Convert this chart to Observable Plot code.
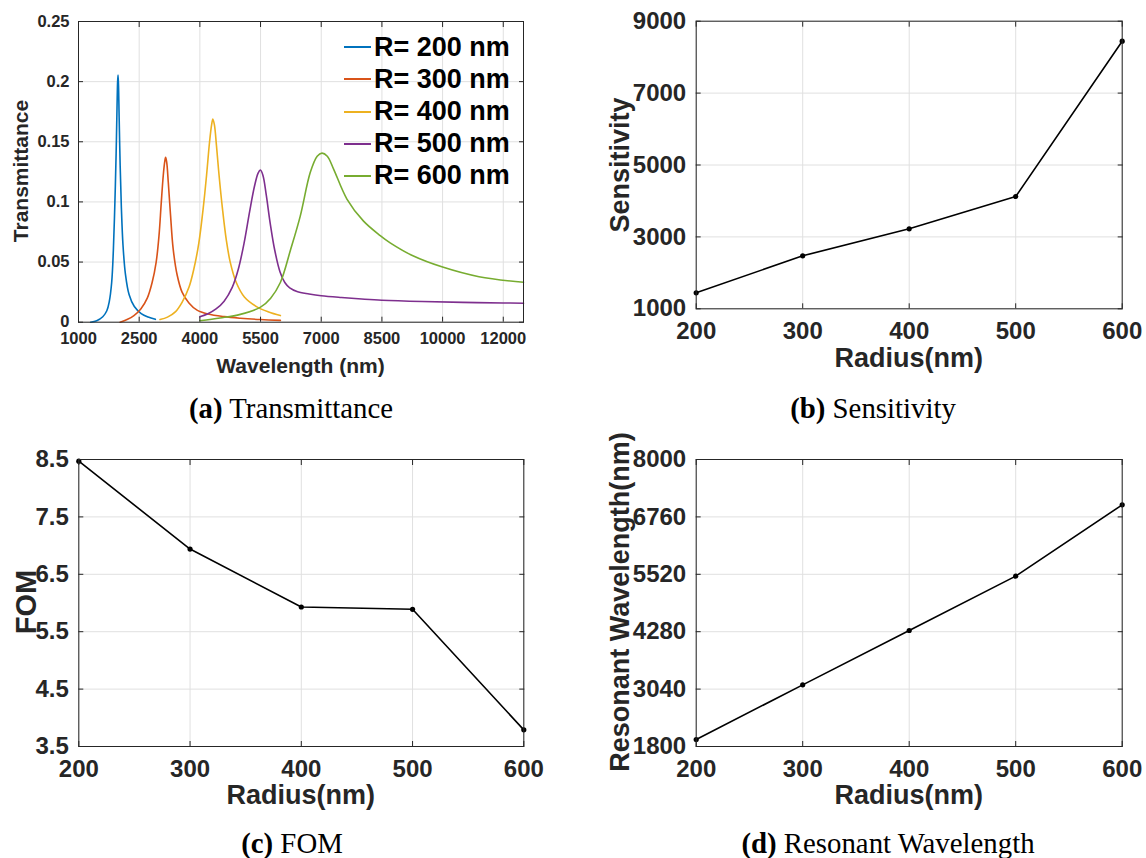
<!DOCTYPE html>
<html><head><meta charset="utf-8">
<script src="https://cdn.jsdelivr.net/npm/d3@7"></script>
<script src="https://cdn.jsdelivr.net/npm/@observablehq/plot@0.6"></script>
<style>
body{margin:0;background:#fff;width:1146px;height:858px;position:relative;overflow:hidden;font-family:"Liberation Sans",Arial,sans-serif}
.panel{position:absolute}
.lab{position:absolute;font-family:"Liberation Sans",Arial,sans-serif;font-weight:bold;color:#262626;line-height:1;white-space:nowrap}
.cap{position:absolute;font-family:"Liberation Serif","Times New Roman",serif;font-size:28.8px;color:#000;line-height:1;white-space:nowrap;transform:translate(-50%,-50%)}
.leg{position:absolute;font-family:"Liberation Sans",Arial,sans-serif;font-weight:bold;font-size:27px;color:#000;line-height:1;white-space:nowrap}
.leg span.sw{display:inline-block;width:27px;height:0;border-top:2px solid;vertical-align:middle;margin-right:3px;position:relative;top:-1px}
</style></head><body>
<div id="pa" class="panel" style="left:0;top:0"></div>
<div id="pb" class="panel" style="left:580px;top:0"></div>
<div id="pc" class="panel" style="left:0;top:430px"></div>
<div id="pd" class="panel" style="left:580px;top:430px"></div>
<div id="labels"></div>
<script>
// ---------- data ----------
const seriesNames = ["R= 200 nm", "R= 300 nm", "R= 400 nm", "R= 500 nm", "R= 600 nm"];
const seriesColors = ["#0072BD", "#D95319", "#EDB120", "#7E2F8E", "#77AC30"];

const wl200 = [1300,1450,1600,1700,1760,1820,1862,1900,1930,1952,1967,1977,1988,2005,2030,2060,2100,2160,2250,2380,2550,2720,2900];
const t200  = [0.0000,0.0012,0.0045,0.0095,0.0170,0.0330,0.0600,0.1000,0.1400,0.1780,0.2000,0.2055,0.1980,0.1700,0.1300,0.0950,0.0640,0.0400,0.0230,0.0130,0.0072,0.0043,0.0024];

const wl300 = [2030,2200,2370,2540,2700,2820,2920,2990,3045,3095,3130,3153,3180,3220,3275,3340,3440,3560,3730,3930,4200,4600,5000,5500,5990];
const t300  = [0.0000,0.0022,0.0055,0.0110,0.0200,0.0330,0.0500,0.0720,0.0990,0.1220,0.1330,0.1370,0.1330,0.1160,0.0890,0.0610,0.0390,0.0250,0.0160,0.0100,0.0068,0.0046,0.0033,0.0022,0.0015];

const wl400 = [3015,3200,3400,3560,3730,3850,3975,4080,4165,4240,4290,4321,4360,4410,4475,4560,4655,4750,4900,5100,5400,5700,5990];
const t400  = [0.0022,0.0042,0.0088,0.0165,0.0290,0.0440,0.0660,0.0940,0.1220,0.1500,0.1640,0.1690,0.1640,0.1470,0.1220,0.0940,0.0680,0.0500,0.0330,0.0210,0.0130,0.0085,0.0055];

const wl500 = [4000,4200,4400,4600,4800,4950,5100,5230,5350,5440,5497,5560,5640,5740,5850,5980,6100,6221,6400,6700,7000,7500,8000,8500,9500,10500,11500,12000];
const t500  = [0.0045,0.0070,0.0110,0.0175,0.0290,0.0440,0.0670,0.0920,0.1130,0.1240,0.1265,0.1220,0.1060,0.0820,0.0600,0.0420,0.0330,0.0285,0.0255,0.0235,0.0220,0.0205,0.0193,0.0183,0.0172,0.0165,0.0160,0.0158];

const wl600 = [4000,4500,5000,5500,5750,5990,6240,6480,6730,6900,7018,7150,7306,7635,8046,8458,8704,9280,10000,10900,12000];
const t600  = [0.0012,0.0035,0.0065,0.0125,0.0200,0.0330,0.0600,0.0880,0.1246,0.1380,0.1406,0.1380,0.1273,0.1024,0.0840,0.0720,0.0660,0.0550,0.0458,0.0378,0.0332];

const wlTicks = [1000,2500,4000,5500,7000,8500,10000,11500];
const wlTickLabels = ["1000","2500","4000","5500","7000","8500","10000","12000"];
const tTicks = [0,0.05,0.1,0.15,0.2,0.25];
const tTickLabels = ["0","0.05","0.1","0.15","0.2","0.25"];

const radius = [200,300,400,500,600];
const sensitivity = [1445,2474,3225,4124,8444];
const fom = [8.47,6.94,5.93,5.89,3.79];
const resonantWl = [1951,3132,4306,5480,7021];

const sensTicks = [1000,3000,5000,7000,9000];
const fomTicks = [3.5,4.5,5.5,6.5,7.5,8.5];
const fomTickLabels = ["3.5","4.5","5.5","6.5","7.5","8.5"];
const resTicks = [1800,3040,4280,5520,6760,8000];

// ---------- helpers ----------
const gridColor = "#e0e0e0";
const axisColor = "#262626";

function axesMarks(xt, xl, yt, yl, fs, pad) {
  return [
    Plot.axisX(xt, {anchor:"bottom", tickSize:-5, tickPadding:pad.x, tickFormat:(d,i)=>xl[i], label:null, fontSize:fs, fontWeight:"bold"}),
    Plot.axisX(xt, {anchor:"top", tickSize:-5, tickFormat:()=>"", label:null}),
    Plot.axisY(yt, {anchor:"left", tickSize:-5, tickPadding:pad.y, tickFormat:(d,i)=>yl[i], label:null, fontSize:fs, fontWeight:"bold"}),
    Plot.axisY(yt, {anchor:"right", tickSize:-5, tickFormat:()=>"", label:null}),
    Plot.frame({stroke:axisColor, strokeWidth:1})
  ];
}

// ---------- panel (a) ----------
const rowsA = [];
[[wl200,t200],[wl300,t300],[wl400,t400],[wl500,t500],[wl600,t600]].forEach(([xs,ys],k)=>{
  xs.forEach((x,i)=>rowsA.push({s:seriesNames[k], x, y:ys[i]}));
});

const plotA = Plot.plot({
  width:560, height:360,
  marginLeft:78, marginRight:37, marginTop:21, marginBottom:38.3,
  style:{fontFamily:"Liberation Sans, Arial, sans-serif", color:axisColor, background:"transparent", overflow:"visible"},
  x:{domain:[1000,12000], label:null},
  y:{domain:[0,0.25], label:null},
  color:{domain:seriesNames, range:seriesColors},
  marks:[
    Plot.gridX(wlTicks, {stroke:gridColor, strokeOpacity:1}),
    Plot.gridY(tTicks, {stroke:gridColor, strokeOpacity:1}),
    Plot.line(rowsA, {x:"x", y:"y", z:"s", stroke:"s", strokeWidth:1.6, curve:"catmull-rom"}),
    ...axesMarks(wlTicks, wlTickLabels, tTicks, tTickLabels, 16.5, {x:15, y:14})
  ]
});
document.getElementById("pa").append(plotA);

// ---------- panels (b),(c),(d) ----------
function radiusPlot(values, yDomain, yTicks, yLabels, m) {
  const rows = radius.map((r,i)=>({x:r, y:values[i]}));
  return Plot.plot({
    width:m.w, height:360,
    marginLeft:m.l, marginRight:m.r, marginTop:m.t, marginBottom:m.b,
    style:{fontFamily:"Liberation Sans, Arial, sans-serif", color:axisColor, background:"transparent", overflow:"visible"},
    x:{domain:[200,600], label:null},
    y:{domain:yDomain, label:null},
    marks:[
      Plot.gridX(radius, {stroke:gridColor, strokeOpacity:1}),
      Plot.gridY(yTicks, {stroke:gridColor, strokeOpacity:1}),
      Plot.line(rows, {x:"x", y:"y", stroke:"#000", strokeWidth:1.6}),
      Plot.dot(rows, {x:"x", y:"y", r:2.6, fill:"#000", stroke:"none"}),
      ...axesMarks(radius, radius.map(String), yTicks, yLabels, 24, {x:18, y:15})
    ]
  });
}
document.getElementById("pb").append(radiusPlot(sensitivity, [1000,9000], sensTicks, sensTicks.map(String),
  {w:566, l:115.7, r:24.3, t:20.7, b:51.7}));
document.getElementById("pc").append(radiusPlot(fom, [3.5,8.5], fomTicks, fomTickLabels,
  {w:560, l:78.3, r:36.7, t:29, b:44}));
document.getElementById("pd").append(radiusPlot(resonantWl, [1800,8000], resTicks, resTicks.map(String),
  {w:566, l:115.7, r:24.3, t:29, b:44}));

// ---------- axis labels, legend, captions ----------
const L = document.getElementById("labels");
function addLabel(text, x, y, size, rotate) {
  const d = document.createElement("div");
  d.className = "lab";
  d.textContent = text;
  d.style.fontSize = size + "px";
  d.style.left = x + "px";
  d.style.top = y + "px";
  d.style.transform = "translate(-50%,-50%)" + (rotate ? " rotate(-90deg)" : "");
  L.append(d);
}
addLabel("Wavelength (nm)", 300.5, 365, 21, false);
addLabel("Transmittance", 20, 171, 21, true);
addLabel("Radius(nm)", 908.7, 358, 27, false);
addLabel("Sensitivity", 620, 164.5, 27, true);
addLabel("Radius(nm)", 300.8, 795, 27, false);
addLabel("FOM", 26, 602, 29, true);
addLabel("Radius(nm)", 908.7, 795, 27, false);
addLabel("Resonant  Wavelength(nm)", 620, 602, 27, true);

seriesNames.forEach((name,i)=>{
  const d = document.createElement("div");
  d.className = "leg";
  d.style.left = "344px";
  d.style.top = (47 + 32.1*i - 13.5) + "px";
  const sw = document.createElement("span");
  sw.className = "sw";
  sw.style.borderTopColor = seriesColors[i];
  d.append(sw, document.createTextNode(name));
  L.append(d);
});

function addCaption(letter, text, x, y) {
  const d = document.createElement("div");
  d.className = "cap";
  d.style.left = x + "px";
  d.style.top = y + "px";
  const b = document.createElement("b");
  b.textContent = "(" + letter + ")";
  d.append(b, document.createTextNode(" " + text));
  L.append(d);
}
addCaption("a", "Transmittance", 291, 408);
addCaption("b", "Sensitivity", 873, 408);
addCaption("c", "FOM", 292, 843);
addCaption("d", "Resonant Wavelength", 888, 843);
</script>
</body></html>
